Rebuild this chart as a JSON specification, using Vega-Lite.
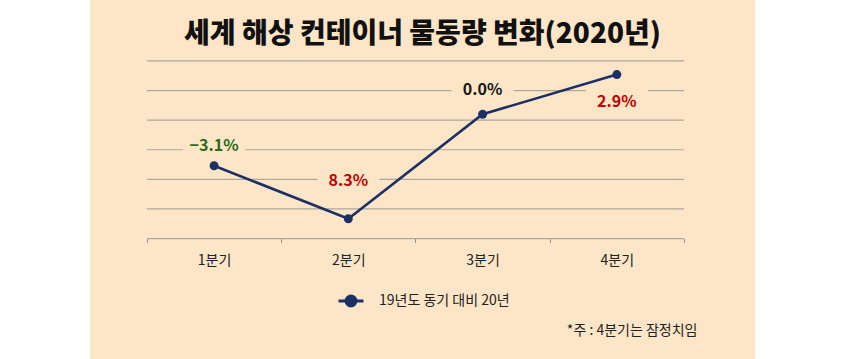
{
  "$schema": "https://vega.github.io/schema/vega-lite/v6.json",
  "autosize": "none",
  "width": 665,
  "height": 359,
  "padding": {"left": 90, "right": 89, "top": 0, "bottom": 0},
  "background": "white",
  "view": {"fill": "#fde6c7", "stroke": null},
  "title": {
    "text": "세계 해상 컨테이너 물동량 변화(2020년)",
    "font": "Noto Sans CJK KR",
    "fontSize": 28,
    "fontWeight": 900,
    "color": "#111111",
    "anchor": "middle",
    "frame": "group",
    "baseline": "alphabetic",
    "offset": -71
  },
  "datasets": {
    "points": [
      {"quarter": "1분기", "value": 2.46, "change": -3.1, "label": "−3.1%", "labelPos": 3.13, "series": "19년도 동기 대비 20년"},
      {"quarter": "2분기", "value": 0.67, "change": 8.3, "label": "8.3%", "labelPos": 1.93, "series": "19년도 동기 대비 20년"},
      {"quarter": "3분기", "value": 4.20, "change": 0.0, "label": "0.0%", "labelPos": 5.02, "series": "19년도 동기 대비 20년"},
      {"quarter": "4분기", "value": 5.54, "change": 2.9, "label": "2.9%", "labelPos": 4.60, "series": "19년도 동기 대비 20년"}
    ],
    "grid": [{"g": 0}, {"g": 1}, {"g": 2}, {"g": 3}, {"g": 4}, {"g": 5}, {"g": 6}]
  },
  "encoding": {
    "x": {
      "field": "quarter",
      "type": "nominal",
      "sort": ["1분기", "2분기", "3분기", "4분기"],
      "scale": {"type": "band", "paddingInner": 0, "paddingOuter": 0.4767, "align": 0.445},
      "axis": {
        "orient": "bottom",
        "offset": -120.5,
        "domain": false,
        "grid": false,
        "ticks": true,
        "tickBand": "extent",
        "tickSize": 4,
        "tickColor": "#9a948a",
        "labelAngle": 0,
        "labelFont": "Noto Sans CJK KR",
        "labelFontSize": 14,
        "labelColor": "#222222",
        "labelPadding": 11,
        "title": "*주 : 4분기는 잠정치임",
        "titleFont": "Noto Sans CJK KR",
        "titleFontSize": 14,
        "titleFontWeight": "normal",
        "titleColor": "#222222",
        "titleAnchor": "end",
        "titleAlign": "right",
        "titleBaseline": "middle",
        "titleX": 607,
        "titleY": 92
      }
    }
  },
  "layer": [
    {
      "data": {"name": "grid"},
      "mark": {"type": "rule", "color": "#aea79c", "strokeWidth": 1.2},
      "encoding": {
        "x": {"datum": "1분기", "bandPosition": 0},
        "x2": {"datum": "4분기", "bandPosition": 1},
        "y": {"field": "g", "type": "quantitative", "scale": {"domain": [-4.07, 8.06], "zero": false, "nice": false}, "axis": null}
      }
    },
    {
      "data": {"name": "points"},
      "mark": {"type": "point", "shape": "M-1,-0.5H1V0.5H-1Z", "filled": true, "fill": "#fde6c7", "opacity": 1, "size": 3844, "strokeWidth": 0},
      "encoding": {
        "y": {"field": "labelPos", "type": "quantitative"}
      }
    },
    {
      "data": {"name": "points"},
      "mark": {"type": "line", "strokeWidth": 2.6},
      "encoding": {
        "y": {"field": "value", "type": "quantitative"},
        "color": {
          "field": "series",
          "type": "nominal",
          "scale": {"range": ["#1d3066"]},
          "legend": {
            "title": null,
            "orient": "none",
            "legendX": 247,
            "legendY": 287,
            "padding": 0,
            "symbolType": "M-1,0H1M-0.4,0A0.4,0.4,0,1,0,0.4,0A0.4,0.4,0,1,0,-0.4,0Z",
            "symbolSize": 625,
            "symbolStrokeWidth": 3,
            "symbolFillColor": "#1d3066",
            "symbolStrokeColor": "#1d3066",
            "labelFont": "Noto Sans CJK KR",
            "labelFontSize": 14,
            "labelColor": "#222222",
            "labelOffset": 14
          }
        }
      }
    },
    {
      "data": {"name": "points"},
      "mark": {"type": "circle", "size": 80, "color": "#1d3066", "opacity": 1},
      "encoding": {
        "y": {"field": "value", "type": "quantitative"}
      }
    },
    {
      "data": {"name": "points"},
      "mark": {"type": "text", "font": "Noto Sans CJK KR", "fontSize": 16, "fontWeight": "bold", "baseline": "middle", "align": "center"},
      "encoding": {
        "y": {"field": "labelPos", "type": "quantitative"},
        "text": {"field": "label"},
        "color": {
          "condition": [
            {"test": "datum.change < 0", "value": "#2c6a1c"},
            {"test": "datum.change > 0", "value": "#c40000"}
          ],
          "value": "#151515"
        }
      }
    }
  ]
}
